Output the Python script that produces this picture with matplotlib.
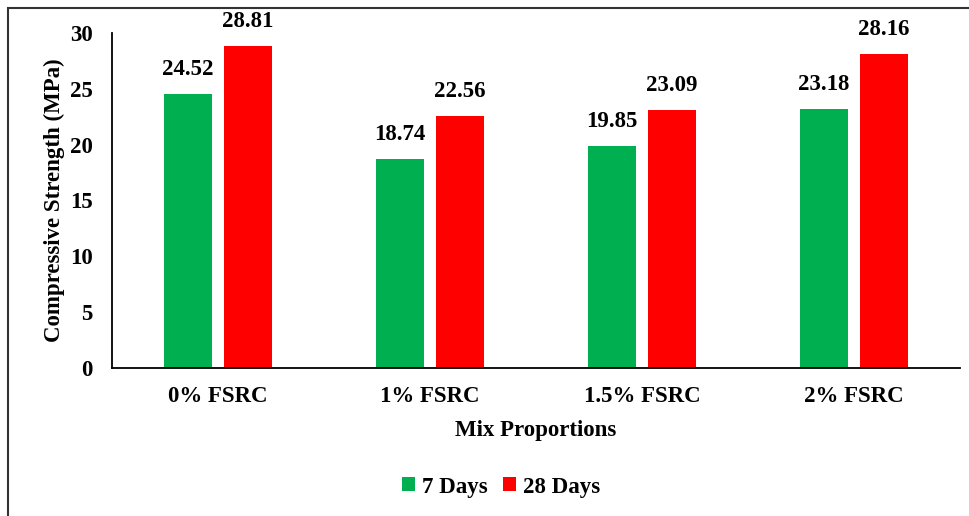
import matplotlib
matplotlib.use("Agg")
import matplotlib.pyplot as plt
import numpy as np
from matplotlib.patches import Rectangle

categories = ["0% FSRC", "1% FSRC", "1.5% FSRC", "2% FSRC"]
days7 = [24.52, 18.74, 19.85, 23.18]
days28 = [28.81, 22.56, 23.09, 28.16]
yticks = [0, 5, 10, 15, 20, 25, 30]

plt.rcParams['font.family'] = ['Liberation Serif', 'DejaVu Serif']
plt.rcParams['font.weight'] = 'bold'

FS = 16.5

fig = plt.figure(figsize=(9.7, 5.16), dpi=100)
ax = fig.add_axes([112/970, 1-368/516, (960-112)/970, (368-33)/516])

x = np.arange(len(categories))
w = 0.226
off = 0.142
b1 = ax.bar(x - off, days7, w, color="#00B050", label="7 Days")
b2 = ax.bar(x + off, days28, w, color="#FF0000", label="28 Days")

for bars, vals in ((b1, days7), (b2, days28)):
    for rect, v in zip(bars, vals):
        ax.annotate(f"{v:.2f}", (rect.get_x() + rect.get_width()/2, v),
                    xytext=(0, 10), textcoords="offset points",
                    ha="center", va="bottom", fontsize=FS, fontweight="bold")

ax.set_xlim(-0.5, len(categories) - 0.5)
ax.set_ylim(0, 30)
ax.set_yticks(yticks)
ax.set_xticks(x)
ax.set_xticklabels(categories)
ax.tick_params(axis="both", length=0, labelsize=FS)
ax.tick_params(axis="y", pad=14)
ax.tick_params(axis="x", pad=13)
for lab in ax.get_xticklabels() + ax.get_yticklabels():
    lab.set_fontweight("bold")

ax.spines["top"].set_visible(False)
ax.spines["right"].set_visible(False)
ax.spines["left"].set_linewidth(1.3)
ax.spines["bottom"].set_linewidth(1.3)

ax.set_xlabel("Mix Proportions", fontsize=FS, fontweight="bold", labelpad=9)
ax.set_ylabel("Compressive Strength (MPa)", fontsize=FS, fontweight="bold", labelpad=3.5)

fig.legend(handles=[b1, b2], loc="center", bbox_to_anchor=(501/970, 1-487/516),
           ncol=2, frameon=False, handlelength=0.55, handleheight=0.55,
           handletextpad=0.3, columnspacing=0.7, prop={"weight": "bold", "size": FS})

# outer frame
fig.patches.append(Rectangle((8/970, -0.1), 1.2, 1 - 8/516 + 0.1, transform=fig.transFigure,
                             fill=False, edgecolor="#333333", linewidth=1.5))

fig.savefig("out.png", dpi=100)
